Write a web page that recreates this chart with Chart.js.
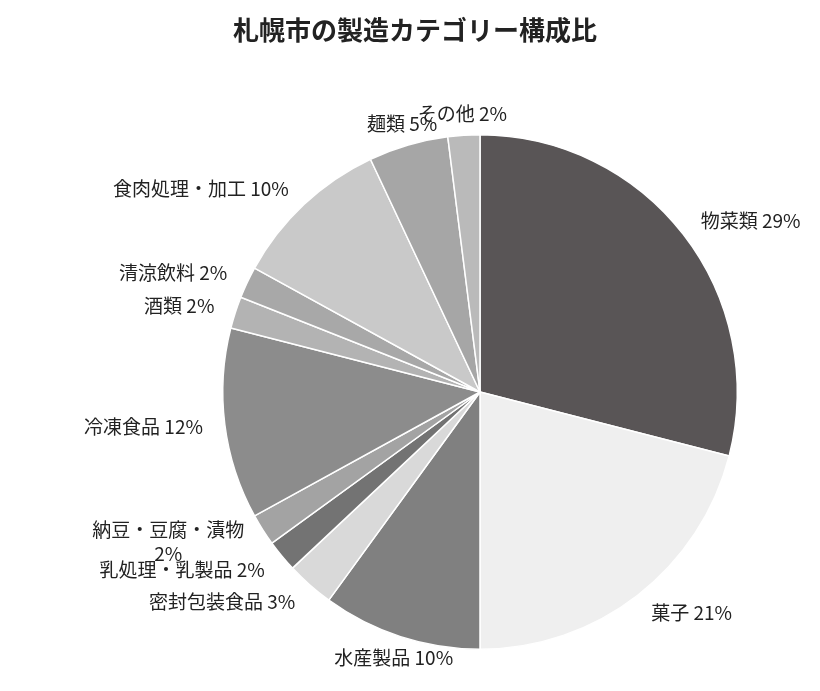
<!DOCTYPE html>
<html>
<head>
<meta charset="utf-8">
<script src="https://cdn.jsdelivr.net/npm/chart.js@4/dist/chart.umd.min.js"></script>
<style>
  body { margin: 0; background: #fff; }
  #wrap { width: 820px; height: 691px; }
</style>
</head>
<body>
<div id="wrap"><canvas id="pie"></canvas></div>
<script>
const titleText = '札幌市の製造カテゴリー構成比';
const categories = ['物菜類', '菓子', '水産製品', '密封包装食品', '乳処理・乳製品', '納豆・豆腐・漬物', '冷凍食品', '酒類', '清涼飲料', '食肉処理・加工', '麺類', 'その他'];
const shares = [29, 21, 10, 3, 2, 2, 12, 2, 2, 10, 5, 2];
const colors = ['#595556', '#efefef', '#808080', '#d9d9d9', '#737373', '#a3a3a3', '#8c8c8c', '#b3b3b3', '#a8a8a8', '#c9c9c9', '#a6a6a6', '#bababa'];

const FONT = '"Noto Sans CJK JP", "Noto Sans", sans-serif';

const labelPlugin = {
    id: 'outerLabels',
    afterDraw(chart) {
        const ctx = chart.ctx;
        ctx.save();
        ctx.fillStyle = '#222';
        ctx.font = `bold 26px ${FONT}`;
        ctx.textAlign = 'center';
        ctx.textBaseline = 'middle';
        ctx.fillText(titleText, 415, 30);

        ctx.font = `19px ${FONT}`;
        chart.getDatasetMeta(0).data.forEach((arc, i) => {
            const mid = (arc.startAngle + arc.endAngle) / 2;
            const cos = Math.cos(mid), sin = Math.sin(mid);
            const r = arc.outerRadius + 22;
            const x = arc.x + cos * r;
            const y = arc.y + sin * r;
            const lines = categories[i] === '納豆・豆腐・漬物'
                ? [categories[i], shares[i] + '%']
                : [categories[i] + ' ' + shares[i] + '%'];
            ctx.textAlign = Math.abs(cos) < 0.35 ? 'center' : (cos > 0 ? 'left' : 'right');
            const lh = 24;
            lines.forEach((t, k) => {
                const ly = y + (k - (lines.length - 1) / 2) * lh;
                const lx = lines.length > 1 ? x - ctx.measureText(lines[0]).width / 2 : x;
                if (lines.length > 1) ctx.textAlign = 'center';
                ctx.fillText(t, lx, ly);
            });
        });
        ctx.restore();
    }
};

new Chart(document.getElementById('pie'), {
    type: 'pie',
    data: {
        labels: categories,
        datasets: [{
            data: shares,
            backgroundColor: colors,
            borderColor: '#ffffff',
            borderWidth: 1.5
        }]
    },
    options: {
        responsive: true,
        maintainAspectRatio: false,
        animation: false,
        layout: { padding: { top: 134, bottom: 41, left: 222, right: 82 } },
        plugins: { legend: { display: false }, tooltip: { enabled: false } }
    },
    plugins: [labelPlugin]
});
</script>
</body>
</html>
